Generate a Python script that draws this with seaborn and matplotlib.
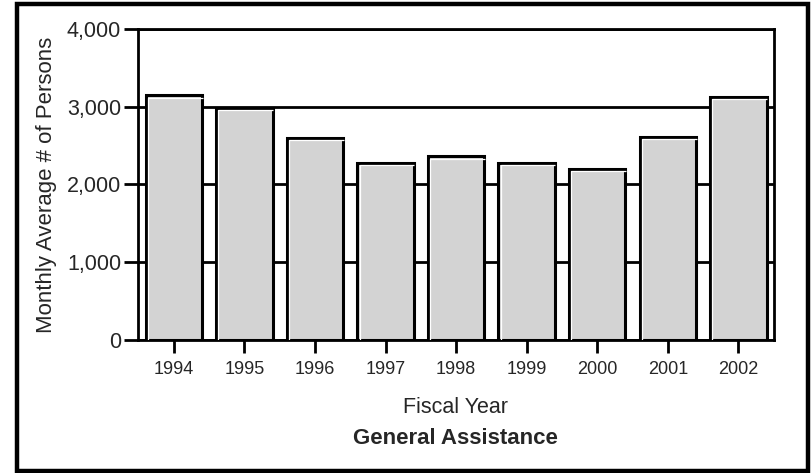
# General Assistance - monthly average persons by fiscal year

import pandas as pd
import numpy as np
import matplotlib
matplotlib.use('Agg')
import matplotlib.pyplot as plt
import matplotlib.transforms as mtransforms
from matplotlib.patches import Rectangle
import seaborn as sns

sns.set_style('white')
plt.rcParams['font.family'] = ['Liberation Sans', 'DejaVu Sans']

# data
years = ['1994', '1995', '1996', '1997', '1998', '1999', '2000', '2001', '2002']
persons = [3145, 2990, 2595, 2280, 2362, 2280, 2200, 2612, 3130]

df = pd.DataFrame({'Fiscal Year': years, 'Persons': persons})

fig = plt.figure(figsize=(8.11, 4.73), dpi=100)
ax = fig.add_axes([0.170, 0.2812, 0.784, 0.6575])

# gridlines behind bars
ax.set_axisbelow(True)
ax.yaxis.grid(True, color='black', linewidth=2)
ax.xaxis.grid(False)

sns.barplot(data=df, x='Fiscal Year', y='Persons', color='#d3d3d3',
            saturation=1, edgecolor='black', linewidth=2.2, width=0.8, ax=ax)

# white highlight on top/left inside each bar
off = mtransforms.ScaledTranslation(2.2 / 100, -2.2 / 100, fig.dpi_scale_trans)
for p in list(ax.patches):
    x0, y0 = p.get_x(), p.get_y()
    w, h = p.get_width(), p.get_height()
    ax.plot([x0, x0, x0 + w * 0.97], [y0, y0 + h, y0 + h], color='white',
            linewidth=0.9, transform=ax.transData + off, zorder=3,
            solid_capstyle='butt')

ax.set_ylim(0, 4000)
ax.set_xlim(-0.51, 8.50)
ax.set_yticks([0, 1000, 2000, 3000, 4000])
ax.set_yticklabels(['0', '1,000', '2,000', '3,000', '4,000'])

for s in ax.spines.values():
    s.set_visible(True)
    s.set_color('black')
    s.set_linewidth(2)

ax.tick_params(axis='y', direction='out', length=10, width=2, color='black',
               labelsize=15.5, pad=2, left=True)
ax.tick_params(axis='x', direction='out', length=9, width=2, color='black',
               labelsize=13, pad=6, bottom=True)

ax.set_ylabel('Monthly Average # of Persons', fontsize=16, labelpad=7)
ax.set_xlabel('Fiscal Year', fontsize=15.5, labelpad=14)

fig.text(0.5 + (0.170 + 0.954 - 1) / 2, 1 - 438 / 473, 'General Assistance',
         fontsize=16, fontweight='bold', ha='center', va='center')

# frame around whole figure
fig.patches.append(Rectangle((17 / 811, 2.5 / 473), 791 / 811, 466 / 473,
                             transform=fig.transFigure, fill=False,
                             edgecolor='black', linewidth=3.2))

fig.savefig('out.png', dpi=100)
